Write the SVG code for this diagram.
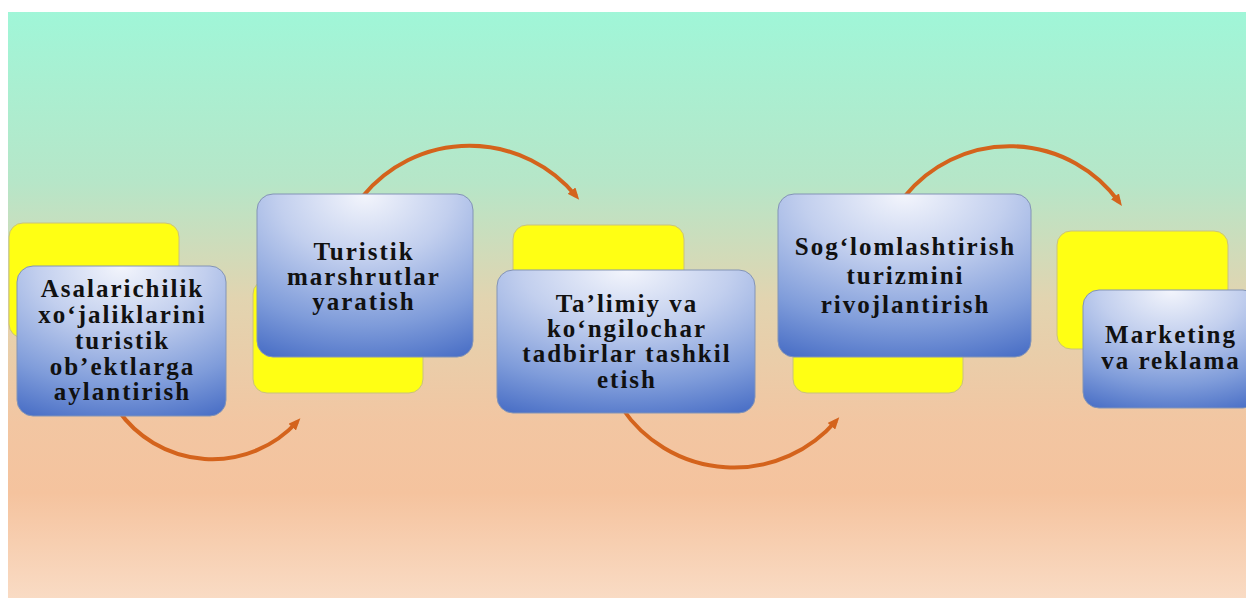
<svg xmlns="http://www.w3.org/2000/svg" width="1246" height="598" viewBox="0 0 1246 598">
<defs>
<linearGradient id="bg" x1="0" y1="0" x2="0" y2="1">
<stop offset="0" stop-color="#a0f6d8"/>
<stop offset="0.29" stop-color="#b6e6c8"/>
<stop offset="0.49" stop-color="#e2d4b0"/>
<stop offset="0.70" stop-color="#f2c6a2"/>
<stop offset="0.82" stop-color="#f5c39e"/>
<stop offset="1" stop-color="#f9dbc4"/>
</linearGradient>
<radialGradient id="blue" cx="0.5" cy="0" r="1.15" fx="0.5" fy="0">
<stop offset="0" stop-color="#f3f5fc"/>
<stop offset="0.35" stop-color="#c2cfee"/>
<stop offset="0.7" stop-color="#7f9cda"/>
<stop offset="1" stop-color="#3f66c2"/>
</radialGradient>
<marker id="ah" viewBox="0 0 12 10" refX="7" refY="5" markerWidth="12" markerHeight="10" markerUnits="userSpaceOnUse" orient="auto">
<path d="M0,0 L12,5 L0,10 z" fill="#d4631c"/>
</marker>
</defs>
<style>
.y{fill:#ffff14;stroke:#c9c27e;stroke-width:1}
.b{fill:url(#blue);stroke:#8394b6;stroke-width:1}
.t{font-family:"Liberation Serif","Times New Roman",serif;font-weight:bold;font-size:25px;letter-spacing:2px;fill:#111;text-anchor:middle}
.c{fill:none;stroke:#d4631c;stroke-width:4}
</style>
<rect x="0" y="0" width="1246" height="598" fill="#ffffff"/>
<rect x="8" y="12" width="1238" height="586" fill="url(#bg)"/>
<g id="connectors">
<path class="c" d="M118,410 A115 115 0 0 0 297,422" marker-end="url(#ah)"/>
<path class="c" d="M363,196 A138 138 0 0 1 576,196" marker-end="url(#ah)"/>
<path class="c" d="M622,408 A135 135 0 0 0 836,421" marker-end="url(#ah)"/>
<path class="c" d="M905,196 A135 135 0 0 1 1119,202" marker-end="url(#ah)"/>
</g>
<g id="node1">
<rect class="y" x="9" y="223" width="170" height="115" rx="14"/>
<rect class="b" x="17" y="266" width="209" height="150" rx="16"/>
<text class="t" x="122.5" y="297">Asalarichilik</text>
<text class="t" x="122.5" y="323">xo‘jaliklarini</text>
<text class="t" x="122.5" y="349">turistik</text>
<text class="t" x="122.5" y="375">ob’ektlarga</text>
<text class="t" x="122.5" y="400">aylantirish</text>
</g>
<g id="node2">
<rect class="y" x="253" y="280" width="170" height="113" rx="14"/>
<rect class="b" x="257" y="194" width="216" height="163" rx="16"/>
<text class="t" x="364" y="260">Turistik</text>
<text class="t" x="364" y="285">marshrutlar</text>
<text class="t" x="364" y="310">yaratish</text>
</g>
<g id="node3">
<rect class="y" x="513" y="225" width="171" height="100" rx="14"/>
<rect class="b" x="497" y="270" width="258" height="143" rx="16"/>
<text class="t" x="627" y="312">Ta’limiy va</text>
<text class="t" x="627" y="337">ko‘ngilochar</text>
<text class="t" x="627" y="362">tadbirlar tashkil</text>
<text class="t" x="627" y="388">etish</text>
</g>
<g id="node4">
<rect class="y" x="793" y="280" width="170" height="113" rx="14"/>
<rect class="b" x="778" y="194" width="253" height="163" rx="16"/>
<text class="t" x="905.5" y="255">Sog‘lomlashtirish</text>
<text class="t" x="905.5" y="284">turizmini</text>
<text class="t" x="905.5" y="313">rivojlantirish</text>
</g>
<g id="node5">
<rect class="y" x="1057" y="231" width="171" height="118" rx="14"/>
<rect class="b" x="1083" y="290" width="176" height="118" rx="16"/>
<text class="t" x="1171" y="343">Marketing</text>
<text class="t" x="1171" y="369">va reklama</text>
</g>
</svg>
